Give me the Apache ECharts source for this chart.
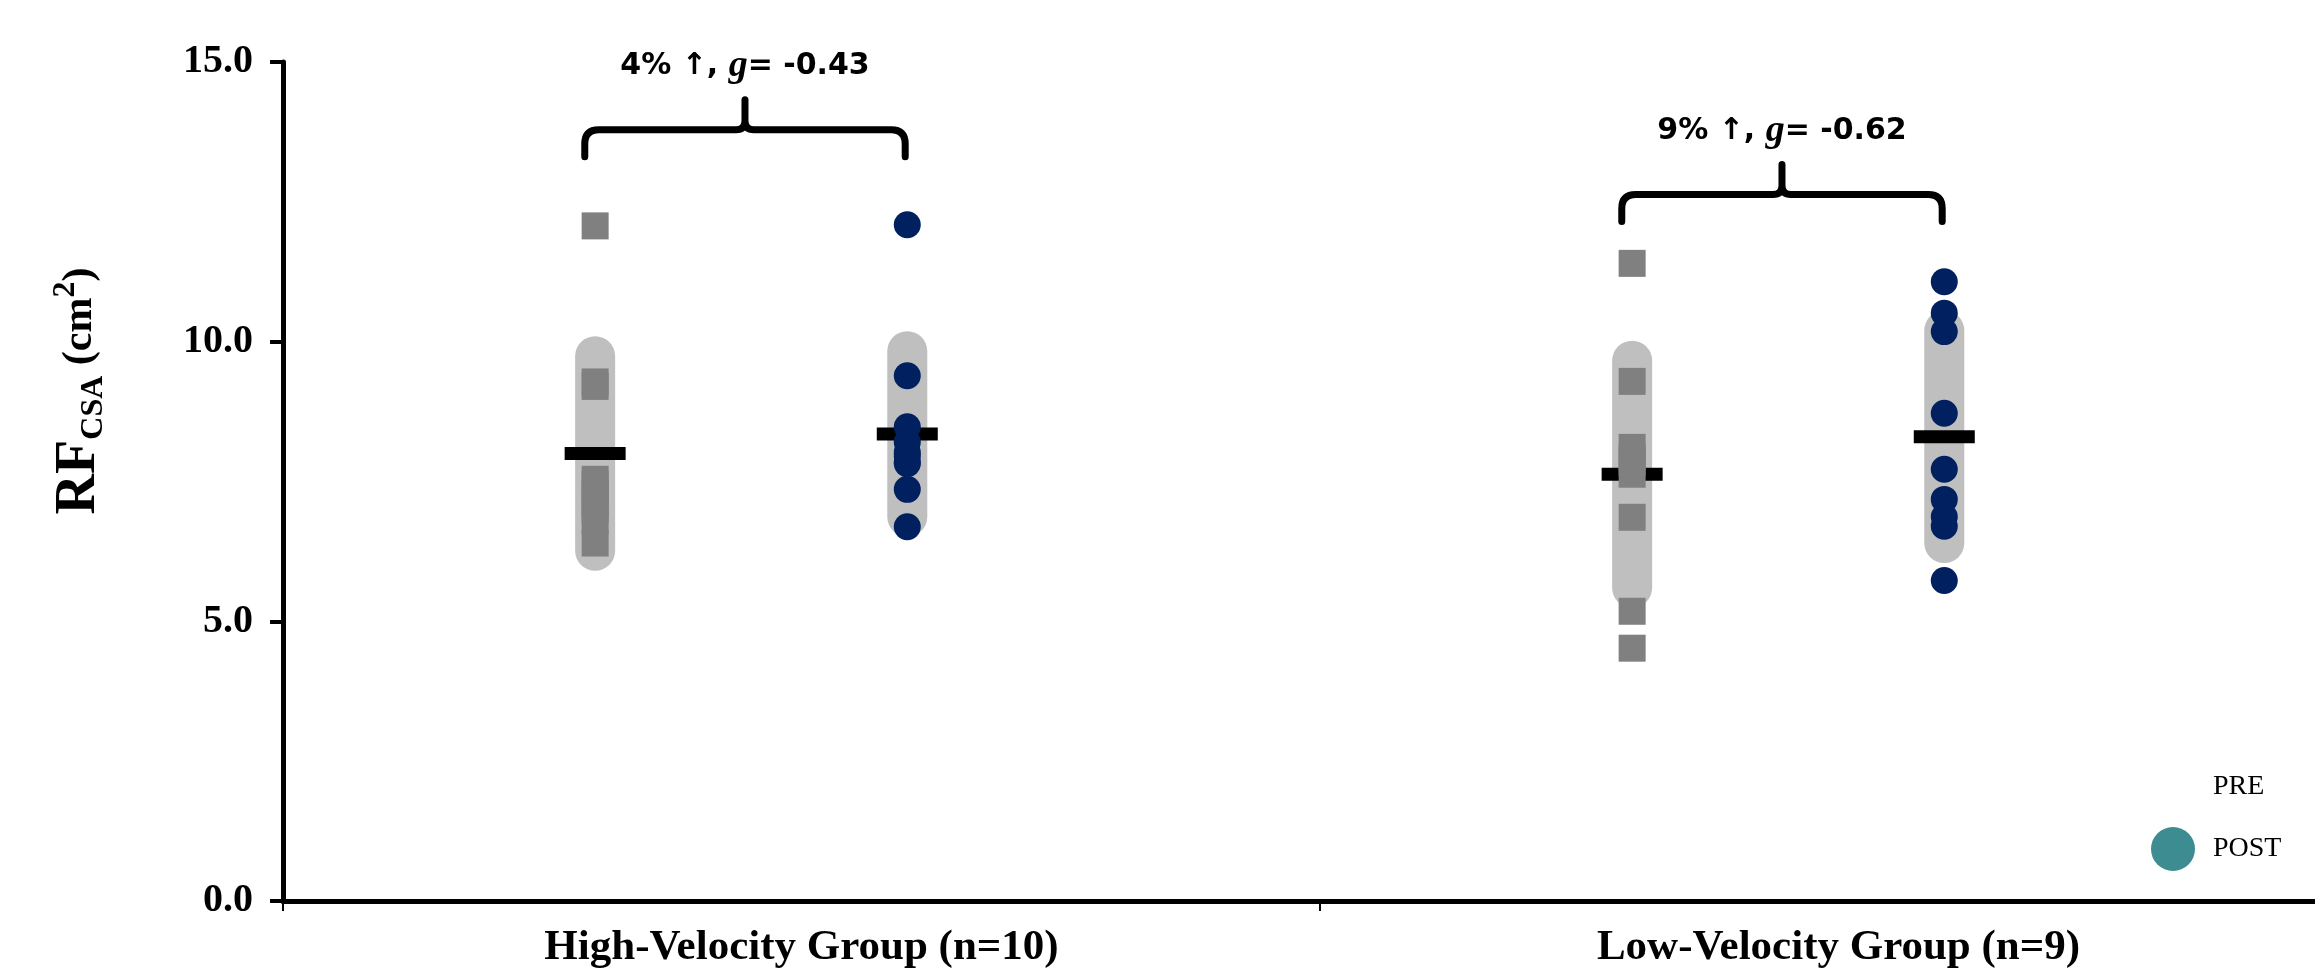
<!DOCTYPE html>
<html>
<head>
<meta charset="utf-8">
<script src="https://cdn.jsdelivr.net/npm/echarts@6/dist/echarts.min.js"></script>
<style>
  html, body { margin: 0; padding: 0; background: #fff; }
  #chart { width: 2315px; height: 969px; }
</style>
</head>
<body>
<div id="chart"></div>
<script>
// groups on the x axis
const groups = ['High-Velocity Group (n=10)', 'Low-Velocity Group (n=9)']

// individual RF CSA values (cm2)
const highPre  = [12.07, 9.28, 9.20, 7.54, 7.45, 7.30, 7.10, 7.00, 6.80, 6.40]
const highPost = [12.09, 9.39, 8.48, 8.20, 8.02, 7.95, 7.85, 7.82, 7.36, 6.69]
const lowPre   = [11.40, 9.29, 8.11, 7.95, 7.85, 7.63, 6.86, 5.18, 4.52]
const lowPost  = [11.07, 10.51, 10.18, 8.72, 7.72, 7.18, 6.87, 6.70, 5.73]

// group mean and SD
const preMean  = [8.00, 7.63]
const preSD    = [1.74, 2.03]
const postMean = [8.35, 8.30]
const postSD   = [1.48, 1.90]

// brace annotations
const changePct  = ['4%', '9%']
const hedgesG    = ['-0.43', '-0.62']
const braceLevel = [13.79, 12.63]

const yTicks = [0, 5, 10, 15]

// where PRE / POST sit inside a group (1 unit = one group)
const preX = 0.301, postX = 0.602
const braceFrom = 0.291, braceTo = 0.600

const serif = 'Liberation Serif'

let myChart = echarts.init(document.getElementById('chart'))

function pts(vals, g, off) {
  return vals.map(v => [g + off, v])
}

myChart.setOption({
  animation: false,
  // plot runs past the right edge, like the original
  grid: {
    left: 283, top: 62, width: 2074, height: 839,
    containLabel: false,
    outerBoundsMode: 'none'
  },
  xAxis: [
    {
      type: 'category',
      data: groups,
      boundaryGap: true,
      axisLine: { lineStyle: { color: '#000', width: 5 } },
      axisTick: { show: true, length: 10, lineStyle: { color: '#000', width: 2 } },
      axisLabel: {
        margin: 25,
        color: '#000',
        fontFamily: serif,
        fontWeight: 'bold',
        fontSize: 43
      },
      splitLine: { show: false }
    },
    { type: 'value', min: 0, max: 2, show: false }
  ],
  yAxis: {
    type: 'value',
    min: yTicks[0],
    max: yTicks[yTicks.length - 1],
    interval: 5,
    axisLine: { show: true, lineStyle: { color: '#000', width: 5 } },
    axisTick: { show: true, length: 13, lineStyle: { color: '#000', width: 4 } },
    axisLabel: {
      margin: 30,
      color: '#000',
      fontFamily: serif,
      fontWeight: 'bold',
      fontSize: 40,
      formatter: v => v.toFixed(1)
    },
    splitLine: { show: false }
  },
  legend: {
    orient: 'vertical',
    left: 2146,
    top: 760,
    itemWidth: 44,
    itemHeight: 44,
    itemGap: 18,
    textStyle: { color: '#000', fontFamily: serif, fontSize: 28, padding: [0, 0, 0, 13] },
    data: [
      { name: 'PRE', itemStyle: { opacity: 0 } },
      { name: 'POST', icon: 'circle', itemStyle: { color: '#3d8c91', opacity: 1 } }
    ]
  },
  graphic: [
    {
      type: 'text',
      x: 80,
      y: 391,
      rotation: Math.PI / 2,
      style: {
        text: '{rf|RF}{sub|CSA}{p| (cm}{sup|2}{p|)}',
        align: 'center',
        verticalAlign: 'middle',
        fill: '#000',
        rich: {
          rf:  { fontFamily: serif, fontWeight: 'bold', fontSize: 56, lineHeight: 60 },
          sub: { fontFamily: serif, fontWeight: 'bold', fontSize: 32, lineHeight: 32, verticalAlign: 'bottom' },
          p:   { fontFamily: serif, fontWeight: 'bold', fontSize: 42, lineHeight: 60 },
          sup: { fontFamily: serif, fontWeight: 'bold', fontSize: 32, lineHeight: 32, verticalAlign: 'top' }
        }
      }
    }
  ],
  series: [
    {
      // SD bars
      type: 'custom',
      xAxisIndex: 1,
      z: 1,
      silent: true,
      data: [
        [0 + preX, preMean[0], preSD[0]],
        [0 + postX, postMean[0], postSD[0]],
        [1 + preX, preMean[1], preSD[1]],
        [1 + postX, postMean[1], postSD[1]]
      ],
      renderItem(params, api) {
        const top = api.coord([api.value(0), api.value(1) + api.value(2)])
        const bot = api.coord([api.value(0), api.value(1) - api.value(2)])
        return {
          type: 'line',
          shape: { x1: top[0], y1: top[1], x2: bot[0], y2: bot[1] },
          style: { stroke: '#bfbfbf', lineWidth: 40, lineCap: 'round' }
        }
      }
    },
    {
      // means
      type: 'scatter',
      xAxisIndex: 1,
      z: 2,
      symbol: 'rect',
      symbolSize: [61, 13],
      itemStyle: { color: '#000', opacity: 1 },
      data: [
        [0 + preX, preMean[0]],
        [0 + postX, postMean[0]],
        [1 + preX, preMean[1]],
        [1 + postX, postMean[1]]
      ]
    },
    {
      name: 'PRE',
      type: 'scatter',
      xAxisIndex: 1,
      z: 3,
      symbol: 'rect',
      symbolSize: 27,
      itemStyle: { color: '#808080', opacity: 1 },
      data: pts(highPre, 0, preX).concat(pts(lowPre, 1, preX))
    },
    {
      name: 'POST',
      type: 'scatter',
      xAxisIndex: 1,
      z: 3,
      symbol: 'circle',
      symbolSize: 27,
      itemStyle: { color: '#002060', opacity: 1 },
      data: pts(highPost, 0, postX).concat(pts(lowPost, 1, postX))
    },
    {
      // braces with change and effect size
      type: 'custom',
      xAxisIndex: 1,
      z: 4,
      silent: true,
      data: [[0, braceLevel[0]], [1, braceLevel[1]]],
      renderItem(params, api) {
        const i = params.dataIndex
        const g = api.value(0)
        const L = api.coord([g + braceFrom, api.value(1)])
        const R = api.coord([g + braceTo, api.value(1)])
        const y = L[1], x0 = L[0], x1 = R[0], xm = (x0 + x1) / 2
        const r = 14, drop = 27, rise = 30, k = 9
        const d = 'M' + x0 + ' ' + (y + drop) +
          ' L' + x0 + ' ' + (y + r) +
          ' Q' + x0 + ' ' + y + ' ' + (x0 + r) + ' ' + y +
          ' L' + (xm - k) + ' ' + y +
          ' Q' + xm + ' ' + y + ' ' + xm + ' ' + (y - k) +
          ' L' + xm + ' ' + (y - rise) +
          ' M' + xm + ' ' + (y - k) +
          ' Q' + xm + ' ' + y + ' ' + (xm + k) + ' ' + y +
          ' L' + (x1 - r) + ' ' + y +
          ' Q' + x1 + ' ' + y + ' ' + x1 + ' ' + (y + r) +
          ' L' + x1 + ' ' + (y + drop)
        return {
          type: 'group',
          children: [
            {
              type: 'path',
              shape: { pathData: d },
              style: { stroke: '#000', lineWidth: 7, fill: null, lineCap: 'round', lineJoin: 'round' }
            },
            {
              type: 'text',
              x: xm,
              y: y - 63,
              style: {
                text: '{t|' + changePct[i] + ' ↑, }{g|g}{t|= ' + hedgesG[i] + '}',
                align: 'center',
                verticalAlign: 'middle',
                fill: '#000',
                rich: {
                  t: { fontFamily: 'DejaVu Sans', fontWeight: 'bold', fontSize: 30 },
                  g: { fontFamily: serif, fontStyle: 'italic', fontWeight: 'bold', fontSize: 38 }
                }
              }
            }
          ]
        }
      }
    }
  ]
})
</script>
</body>
</html>
